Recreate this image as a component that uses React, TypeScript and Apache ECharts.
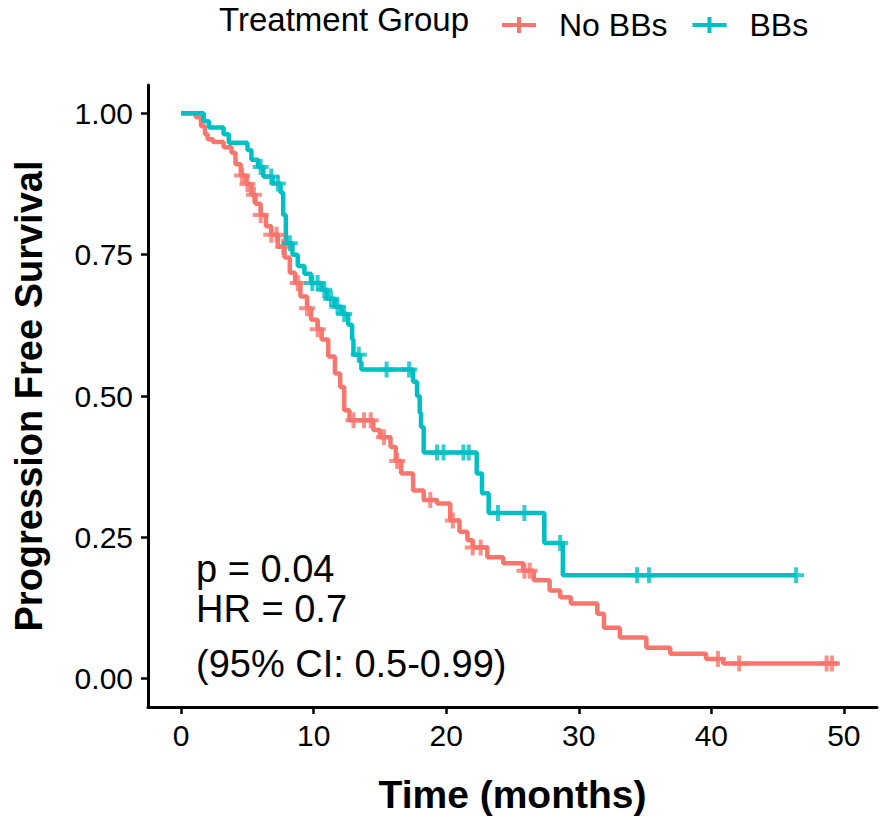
import React, { useEffect, useRef } from "react";
import * as echarts from "echarts";

// Kaplan-Meier step data (time in months, survival)
const noBBsTimes = [0, 1.1, 1.5, 1.8, 2.0, 2.4, 3.2, 3.8, 4.1, 4.5, 4.9, 5.3, 5.6, 6.0, 6.4, 6.8, 7.3, 7.8, 8.2, 8.6, 9.0, 9.5, 9.8, 10.3, 10.6, 11.1, 11.6, 12.0, 12.3, 12.7, 14.5, 15.0, 15.8, 16.2, 16.6, 17.5, 18.3, 19.3, 20.3, 21.0, 21.6, 22.0, 23.1, 24.3, 25.8, 26.6, 27.8, 28.6, 29.4, 31.4, 31.9, 33.1, 35.1, 36.9, 39.6, 40.9, 49.6];
const noBBsSurv = [1.0, 0.993, 0.977, 0.963, 0.954, 0.949, 0.94, 0.93, 0.91, 0.89, 0.875, 0.856, 0.84, 0.82, 0.8, 0.785, 0.764, 0.745, 0.718, 0.7, 0.676, 0.655, 0.635, 0.618, 0.6, 0.57, 0.54, 0.516, 0.475, 0.457, 0.44, 0.427, 0.41, 0.385, 0.363, 0.333, 0.316, 0.31, 0.28, 0.26, 0.245, 0.232, 0.215, 0.204, 0.191, 0.174, 0.156, 0.144, 0.133, 0.115, 0.09, 0.073, 0.055, 0.044, 0.035, 0.027, 0.027];
const noBBsCensor = [4.6, 5.0, 5.5, 6.0, 6.8, 7.2, 7.7, 8.8, 9.5, 10.3, 13.0, 13.8, 14.3, 15.3, 16.3, 18.8, 20.5, 22.0, 22.6, 25.9, 26.3, 40.5, 42.1, 48.7, 49.1];

const bbsTimes = [0, 1.7, 2.1, 3.2, 3.6, 5.0, 5.3, 5.8, 6.2, 6.9, 7.5, 7.7, 7.9, 8.4, 8.8, 9.3, 9.8, 10.6, 11.0, 11.6, 12.1, 12.6, 12.9, 13.0, 13.5, 13.6, 17.5, 17.8, 18.0, 18.1, 18.3, 22.3, 22.7, 23.2, 27.4, 28.8, 46.4];
const bbsSurv = [1.0, 0.986, 0.975, 0.963, 0.948, 0.935, 0.918, 0.905, 0.888, 0.876, 0.86, 0.82, 0.77, 0.75, 0.73, 0.716, 0.7, 0.688, 0.672, 0.658, 0.645, 0.626, 0.6, 0.573, 0.56, 0.547, 0.525, 0.5, 0.47, 0.445, 0.4, 0.363, 0.328, 0.293, 0.24, 0.183, 0.183];
const bbsCensor = [6.0, 6.8, 7.3, 8.2, 9.9, 10.3, 10.8, 11.3, 11.8, 12.3, 13.4, 15.5, 17.2, 19.3, 19.8, 21.3, 21.7, 23.9, 25.9, 28.6, 34.4, 35.3, 46.4];

const groupNames = ["No BBs", "BBs"];
const xTicks = [0, 10, 20, 30, 40, 50];
const yTicks = [0, 0.25, 0.5, 0.75, 1.0];
const annotations = ["p = 0.04", "HR = 0.7", "(95% CI: 0.5-0.99)"];

const RED = "#F8766D";
const TEAL = "#00BFC4";
const FONT = "'Liberation Sans', Arial, sans-serif";
const CROSS = "path://M6,0 H10 V6 H16 V10 H10 V16 H6 V10 H0 V6 H6 Z";
const LEGEND_ICON = "path://M0,6 H34 V10 H0 Z M15,0 H19 V16 H15 Z";

function stepValue(times: number[], surv: number[], t: number) {
  let v = surv[0];
  for (let i = 0; i < times.length; i++) {
    if (times[i] <= t) v = surv[i];
  }
  return v;
}

export default function App() {
  const ref = useRef<HTMLDivElement>(null);
  useEffect(() => {
    if (!ref.current) return;
    const chart = echarts.init(ref.current, undefined, { renderer: "svg" });
    const redLine = noBBsTimes.map((t, i) => [t, noBBsSurv[i]]);
    const tealLine = bbsTimes.map((t, i) => [t, bbsSurv[i]]);
    const redCens = noBBsCensor.map((t) => [t, stepValue(noBBsTimes, noBBsSurv, t)]);
    const tealCens = bbsCensor.map((t) => [t, stepValue(bbsTimes, bbsSurv, t)]);
    const axisLine = { show: true, onZero: false, lineStyle: { color: "#000", width: 3 } };
    const axisTickStyle = { lineStyle: { color: "#000", width: 2.5 }, length: 7 };
    chart.setOption({
      animation: false,
      backgroundColor: "#fff",
      grid: { left: 148, top: 85, right: 9, bottom: 121 },
      legend: {
        left: 497,
        top: 4,
        itemWidth: 34,
        itemHeight: 16,
        itemGap: 25,
        data: [
          { name: groupNames[0], icon: LEGEND_ICON },
          { name: groupNames[1], icon: LEGEND_ICON },
        ],
        textStyle: { fontFamily: FONT, fontSize: 32, color: "#000", padding: [0, 0, 0, 18] },
      },
      graphic: [
        {
          type: "text",
          left: 219,
          top: 3,
          style: { text: "Treatment Group", font: `33px ${FONT}`, fill: "#000" },
        },
        ...annotations.map((a, i) => ({
          type: "text",
          x: 196,
          y: [569, 609, 664][i],
          style: { text: a, font: `38px ${FONT}`, fill: "#000", verticalAlign: "middle" },
        })),
      ],
      xAxis: {
        type: "value",
        min: -2.5,
        max: 52.5,
        splitLine: { show: false },
        axisLine,
        axisTick: { show: true, customValues: xTicks, ...axisTickStyle },
        axisLabel: { customValues: xTicks, fontFamily: FONT, fontSize: 30, color: "#000", margin: 13 },
        name: "Time (months)",
        nameLocation: "middle",
        nameGap: 68,
        nameTextStyle: { fontFamily: FONT, fontSize: 39, fontWeight: "bold", color: "#000" },
      },
      yAxis: {
        type: "value",
        min: -0.05,
        max: 1.05,
        splitLine: { show: false },
        axisLine,
        axisTick: { show: true, customValues: yTicks, ...axisTickStyle },
        axisLabel: {
          customValues: yTicks,
          fontFamily: FONT,
          fontSize: 30,
          color: "#000",
          margin: 15,
          formatter: (v: number) => v.toFixed(2),
        },
        name: "Progression Free Survival",
        nameLocation: "middle",
        nameGap: 100,
        nameTextStyle: { fontFamily: FONT, fontSize: 38, fontWeight: "bold", color: "#000" },
      },
      series: [
        {
          name: groupNames[0],
          type: "line",
          step: "end",
          showSymbol: false,
          data: redLine,
          color: RED,
          lineStyle: { color: RED, width: 4.5 },
          z: 2,
        },
        {
          name: groupNames[1],
          type: "line",
          step: "end",
          showSymbol: false,
          data: tealLine,
          color: TEAL,
          lineStyle: { color: TEAL, width: 4.5 },
          z: 3,
        },
        {
          name: "No BBs censored",
          type: "scatter",
          symbol: CROSS,
          symbolSize: 16,
          data: redCens,
          itemStyle: { color: RED },
          z: 4,
        },
        {
          name: "BBs censored",
          type: "scatter",
          symbol: CROSS,
          symbolSize: 16,
          data: tealCens,
          itemStyle: { color: TEAL },
          z: 5,
        },
      ],
    });
    return () => chart.dispose();
  }, []);
  return (
    <div
      ref={ref}
      style={{ position: "fixed", left: 0, top: 0, width: 886, height: 828, background: "#fff" }}
    />
  );
}
